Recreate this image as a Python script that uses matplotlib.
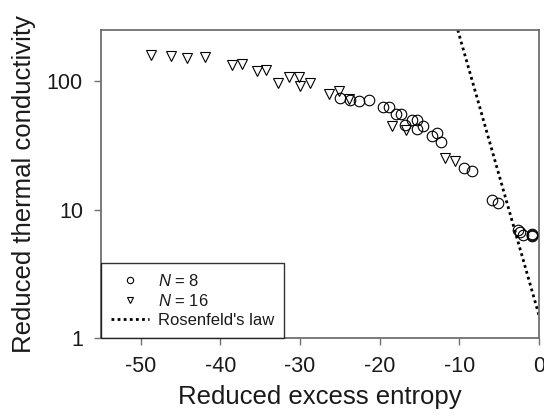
import matplotlib
matplotlib.use("Agg")
import matplotlib.pyplot as plt

plt.rcParams['font.family'] = ['Liberation Sans', 'DejaVu Sans']
plt.rcParams['mathtext.fontset'] = 'custom'
plt.rcParams['mathtext.it'] = 'Liberation Sans:italic'
plt.rcParams['mathtext.rm'] = 'Liberation Sans'
plt.rcParams['axes.unicode_minus'] = False

# N = 8 (circles)
n8_x = [-24.97, -23.7, -22.63, -21.37, -19.53, -18.86, -17.98, -17.35, -16.77,
        -16.0, -15.34, -15.34, -14.6, -13.46, -12.75, -12.25, -9.48, -8.43,
        -5.92, -5.21, -2.65, -2.36, -1.95, -0.82, -0.82, -0.9]
n8_y = [74, 71.8, 69.7, 71, 63, 63, 55.9, 55.9, 45.9,
        49.6, 49.6, 42.5, 45, 37.2, 39.5, 33.4, 21.1, 19.8,
        11.8, 11.2, 6.96, 6.63, 6.32, 6.48, 6.17, 6.3]

# N = 16 (triangles)
n16_x = [-48.76, -46.24, -44.23, -41.9, -38.54, -37.29, -35.4, -34.27, -32.8,
         -31.38, -30.13, -30.0, -28.7, -26.32, -25.1, -23.84, -18.4, -16.64,
         -11.8, -10.5]
n16_y = [161, 156, 151, 155, 134, 135, 120, 122, 96.3,
         107, 107, 90.8, 97, 79.6, 84.5, 72.8, 44.5, 41.9,
         25, 24]

# Rosenfeld's law (straight line on log scale)
ros_x = [-10.2, 0.0]
ros_y = [250.0, 1.5]

xticks = [-50, -40, -30, -20, -10, 0]
yticks = [1, 10, 100]
ytick_labels = ['1', '10', '100']

fig = plt.figure(figsize=(5.44, 4.16), dpi=100)
ax = fig.add_axes([101/544, 78/416, 438/544, 308/416])

ax.plot(n8_x, n8_y, linestyle='none', marker='o', ms=7.6, mfc='none',
        mec='black', mew=0.8, label='$N$ = 8', zorder=3)
ax.plot(n16_x, n16_y, linestyle='none', marker='v', ms=6.5, mfc='none',
        mec='black', mew=0.8, label='$N$ = 16', zorder=3)
ax.plot(ros_x, ros_y, linestyle=(0, (1, 1.2)), color='black', lw=2,
        label="Rosenfeld's law", zorder=2)

ax.set_yscale('log')
ax.set_xlim(-55, 0)
ax.set_ylim(1, 250)
ax.set_xticks(xticks)
ax.set_yticks(yticks)
ax.set_yticklabels(ytick_labels)
ax.minorticks_off()

for s in ax.spines.values():
    s.set_color('#707070')
    s.set_linewidth(1.3)

ax.tick_params(axis='both', direction='out', length=5, width=1, color='#707070',
               labelsize=15.5, labelcolor='#1a1a1a', pad=8)

ax.set_xlabel('Reduced excess entropy', fontsize=18.5, color='#1a1a1a', labelpad=6)
ax.set_ylabel('Reduced thermal conductivity', fontsize=18.5, color='#1a1a1a', labelpad=8)

leg = ax.legend(loc='lower left', borderaxespad=0, fontsize=12, markerscale=0.6,
                handlelength=2.3, handletextpad=0.5, labelspacing=0.25,
                fancybox=False, frameon=True, borderpad=0.6)
leg.get_frame().set_edgecolor('black')
leg.get_frame().set_linewidth(1)
for t in leg.get_texts():
    t.set_color('#1a1a1a')

fig.savefig('out.png', dpi=100)
